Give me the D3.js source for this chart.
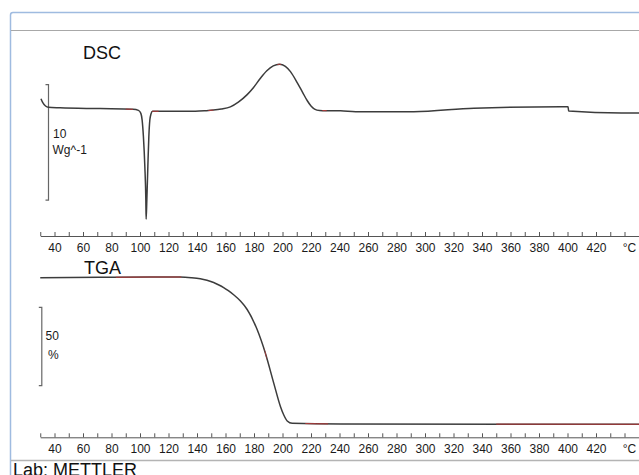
<!DOCTYPE html>
<html>
<head>
<meta charset="utf-8">
<script src="https://cdn.jsdelivr.net/npm/d3@7"></script>
<style>
  html, body { margin: 0; padding: 0; background: #fff; }
  svg { display: block; font-family: "Liberation Sans", Arial, sans-serif; }
</style>
</head>
<body>
<svg id="chart" width="639" height="475"></svg>
<script>
// temperature axis (°C)
const tickLabels = [40, 60, 80, 100, 120, 140, 160, 180, 200, 220, 240, 260, 280, 300, 320, 340, 360, 380, 400, 420];
const tickValues = d3.range(30, 450, 10);

// DSC curve, heat flow in W/g (exo up)
const dscTemp = [30.5, 31.9, 33.7, 35.6, 43.9, 72, 95.2, 98.9, 100.6, 101.5, 102.4, 103.4, 104.1, 104.3, 104.8, 105.5, 106.2, 106.9, 107.7, 108.8,
  114.2, 138.9, 146, 151.5, 157, 163.4, 169, 175.2, 179.7, 184.5, 189, 193.5, 197.9, 202, 205.6, 210.4, 214, 217.4, 220, 222.5, 226, 231.4, 240.8,
  251.3, 292.1, 334.3, 395.5, 400.4, 400.8, 437.8, 451.2];
const dscFlow = [0.98, 0.61, 0.35, 0.23, 0.19, 0.12, 0.06, -0.03, -0.29, -0.87, -2.31, -4.91, -7.79, -9.46, -7.79, -4.91, -2.31, -0.87, -0.35, -0.11,
  -0.11, -0.1, -0.06, -0.01, 0.08, 0.27, 0.68, 1.33, 1.95, 2.75, 3.4, 3.82, 3.96, 3.78, 3.32, 2.35, 1.55, 0.8, 0.35, 0.08, -0.04, -0.06, -0.07,
  -0.15, -0.15, 0.16, 0.29, 0.28, -0.09, -0.26, -0.26];

// TGA curve, mass in %
const tgaTemp = [30, 72, 107, 128, 136, 142.3, 147, 151.7, 155, 158.7, 162, 165.7, 170.5, 175.2, 182.2, 188, 193.9, 198.6, 200.9, 203.3, 206.8, 240.8, 451];
const tgaMass = [99.8, 100.1, 100.3, 100.3, 99.9, 99.2, 98.2, 96.8, 95.4, 93.6, 91.6, 89.0, 85.0, 79.6, 66.8, 51.7, 32.5, 17.6, 12.3, 8.5, 7, 6.6, 6.4];

// red evaluation segments on the curves (°C ranges)
const dscMarks = [[90, 95], [108.5, 113], [148, 151.5], [196.5, 199], [228, 231]];
const tgaMarks = [[83, 129], [187.5, 188.8], [216, 232], [350, 451]];

const svg = d3.select('#chart');
const W = 639, H = 475;

const x = d3.scaleLinear().domain([40, 420]).range([54.5, 596]);
const xAxisScale = x.copy().domain([30, 451]).range([x(30), x(451)]);

const yDsc = d3.scaleLinear().domain([-10, 5]).range([225.5, 52.25]);
const yTga = d3.scaleLinear().domain([0, 100]).range([434.3, 277.5]);

// frame
svg.append('path')
  .attr('d', `M10.5,${H} V15 Q10.5,12.5 13,12.5 H${W}`)
  .attr('fill', 'none')
  .attr('stroke', '#9fbbe0')
  .attr('stroke-width', 1.5);
svg.append('line')
  .attr('x1', 11).attr('x2', W).attr('y1', 30.5).attr('y2', 30.5)
  .attr('stroke', '#a8a8a8');
svg.append('line')
  .attr('x1', 11).attr('x2', W).attr('y1', 460.5).attr('y2', 460.5)
  .attr('stroke', '#b4b4b4').attr('stroke-width', 1.5);

function drawAxis(yPos) {
  const axis = d3.axisBottom(xAxisScale)
    .tickValues(tickValues)
    .tickSizeInner(-4)
    .tickSizeOuter(0)
    .tickPadding(7)
    .tickFormat(d => tickLabels.includes(d) ? d : '');
  const g = svg.append('g')
    .attr('transform', `translate(0,${yPos})`)
    .call(axis);
  g.select('.domain').attr('stroke', '#555');
  g.selectAll('.tick line').attr('stroke', '#555');
  g.selectAll('.tick text')
    .attr('fill', '#1a1a1a')
    .style('font-size', '12px')
    .style('font-family', '"Liberation Sans", Arial, sans-serif');
  g.append('text')
    .attr('x', xAxisScale(440) + 5)
    .attr('y', 7)
    .attr('dy', '0.71em')
    .attr('fill', '#1a1a1a')
    .style('font-size', '12px')
    .text('°C');
}

function drawBracket(yScale, lo, hi, bx) {
  svg.append('path')
    .attr('d', `M${bx - 3},${yScale(hi)} H${bx} V${yScale(lo)} H${bx - 3}`)
    .attr('fill', 'none')
    .attr('stroke', '#666')
    .attr('stroke-width', 1.2);
}

function drawCurve(temps, vals, yScale, marks, id) {
  const pts = temps.map((t, i) => [t, vals[i]]);
  const line = d3.line()
    .x(d => x(d[0]))
    .y(d => yScale(d[1]))
    .curve(d3.curveMonotoneX);

  svg.append('path')
    .datum(pts)
    .attr('d', line)
    .attr('fill', 'none')
    .attr('stroke', '#3c3c3c')
    .attr('stroke-width', 1.5)
    .attr('stroke-linejoin', 'round');

  // red overlay pieces, clipped to each temperature range
  marks.forEach((m, i) => {
    const cid = `${id}-clip-${i}`;
    svg.append('clipPath').attr('id', cid)
      .append('rect')
      .attr('x', x(m[0])).attr('width', x(m[1]) - x(m[0]))
      .attr('y', 0).attr('height', H);
    svg.append('path')
      .datum(pts)
      .attr('d', line)
      .attr('clip-path', `url(#${cid})`)
      .attr('fill', 'none')
      .attr('stroke', '#b33a3a')
      .attr('stroke-width', 1);
  });
}

// DSC panel
svg.append('text').attr('x', 83).attr('y', 58.5)
  .style('font-size', '18px').attr('fill', '#111').text('DSC');
drawBracket(yDsc, -7.8, 2.2, 48.5);
svg.append('text').attr('x', 53).attr('y', 137.5)
  .style('font-size', '12px').attr('fill', '#1a1a1a').text('10');
svg.append('text').attr('x', 52.5).attr('y', 154)
  .style('font-size', '12px').attr('fill', '#1a1a1a').text('Wg^-1');
drawCurve(dscTemp, dscFlow, yDsc, dscMarks, 'dsc');
drawAxis(236);

// TGA panel
svg.append('text').attr('x', 84).attr('y', 274)
  .style('font-size', '18px').attr('fill', '#111').text('TGA');
drawBracket(yTga, 31, 81, 41.8);
svg.append('text').attr('x', 45.5).attr('y', 339.5)
  .style('font-size', '12px').attr('fill', '#1a1a1a').text('50');
svg.append('text').attr('x', 48).attr('y', 358.5)
  .style('font-size', '12px').attr('fill', '#1a1a1a').text('%');
drawCurve(tgaTemp, tgaMass, yTga, tgaMarks, 'tga');
drawAxis(437.3);

// footer (cut by the bottom edge, as in the original)
svg.append('text').attr('x', 13).attr('y', 476)
  .style('font-size', '18px').attr('fill', '#111').text('Lab: METTLER');
</script>
</body>
</html>
